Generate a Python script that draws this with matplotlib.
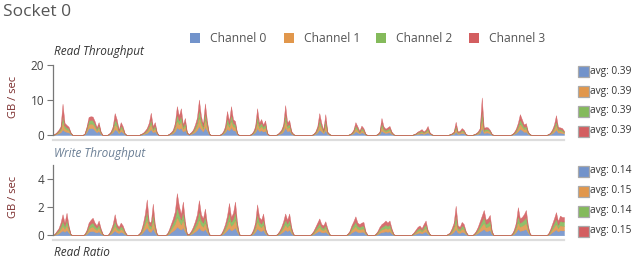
"""
Socket 0 — per-channel memory throughput (stacked areas)
"""
import matplotlib
matplotlib.use("Agg")
import matplotlib.pyplot as plt
from matplotlib.patches import Rectangle
from matplotlib.lines import Line2D
import numpy as np

plt.rcParams["font.family"] = ["Open Sans", "DejaVu Sans"]

# ─── 数据 ─────────────────────────────────────────────────────────────── #
N_SAMPLES = 256
CHANNELS = ["Channel 0", "Channel 1", "Channel 2", "Channel 3"]
COLORS = ["#7293CB", "#E1974C", "#84BA5B", "#D35E60"]

# read throughput bursts (GB/s), start sample of each burst
read_starts = [1, 16, 28, 44, 58, 68, 84, 99, 112, 130, 148, 162, 180, 198, 210, 229, 247]
read_ch0 = [
    [0.1, 0.3, 0.5, 0.8, 1.6, 1.1, 0.9, 0.8, 0.3],
    [0.2, 0.9, 2.0, 2.0, 2.0, 1.4, 0.8, 1.2, 0.3],
    [0.1, 0.4, 0.8, 1.6, 1.4, 0.5, 1.1, 0.8, 0.2],
    [0.1, 0.2, 0.4, 0.6, 1.1, 1.7, 0.8, 1.1, 0.3],
    [0.1, 0.3, 0.5, 1.1, 2.2, 1.7, 2.1, 1.0, 1.5, 0.3],
    [0.1, 0.3, 0.5, 0.9, 1.5, 2.5, 1.7, 1.0, 2.3, 1.3, 0.2],
    [0.1, 0.4, 0.8, 1.8, 1.3, 2.2, 1.4, 1.3, 0.2],
    [0.1, 0.4, 0.8, 2.0, 1.1, 1.4, 1.0, 1.3, 0.2],
    [0.1, 0.3, 0.5, 1.0, 2.2, 1.1, 1.3, 0.4, 0.1],
    [0.1, 0.3, 0.8, 1.6, 1.1, 0.5, 1.5, 0.3, 0.1],
    [0.1, 0.2, 0.5, 1.1, 0.8, 0.4, 0.8, 0.6, 0.1],
    [0.1, 0.3, 1.3, 0.8, 0.6, 0.7, 0.8, 0.3, 0.1],
    [0.1, 0.2, 0.3, 0.4, 0.5, 0.3, 0.5, 0.8, 0.3, 0.1],
    [0.1, 0.2, 0.3, 1.0, 0.3, 0.4, 0.6, 0.5, 0.1],
    [0.1, 0.2, 0.3, 0.6, 2.0, 0.6, 0.7, 0.7, 0.5, 0.1],
    [0.1, 0.3, 0.6, 1.1, 1.8, 1.4, 0.9, 1.0, 0.3, 0.1],
    [0.1, 0.2, 0.5, 0.9, 1.6, 0.7, 0.7, 0.6, 0.4],
]
read_ch1 = [
    [0.1, 0.2, 0.4, 0.6, 2.3, 0.9, 0.7, 0.6, 0.2],
    [0.1, 0.6, 1.2, 1.3, 1.2, 1.0, 0.5, 0.9, 0.3],
    [0.1, 0.2, 0.6, 1.5, 1.1, 0.4, 0.9, 0.6, 0.1],
    [0.1, 0.2, 0.3, 0.5, 0.9, 1.6, 0.6, 0.9, 0.2],
    [0.1, 0.2, 0.4, 0.9, 2.0, 1.4, 1.9, 0.8, 1.2, 0.2],
    [0.1, 0.2, 0.4, 0.8, 1.3, 2.6, 1.4, 0.8, 2.3, 1.0, 0.1],
    [0.1, 0.2, 0.6, 1.7, 1.0, 2.0, 1.1, 1.0, 0.2],
    [0.1, 0.2, 0.6, 1.9, 0.9, 1.2, 0.8, 1.0, 0.2],
    [0.05, 0.2, 0.4, 0.8, 2.1, 0.9, 1.1, 0.3, 0.1],
    [0.1, 0.3, 0.6, 1.6, 0.9, 0.4, 1.5, 0.3, 0.1],
    [0.05, 0.2, 0.4, 0.9, 0.6, 0.3, 0.7, 0.5, 0.1],
    [0.1, 0.3, 1.2, 0.6, 0.4, 0.5, 0.7, 0.3, 0.05],
    [0.05, 0.1, 0.3, 0.3, 0.4, 0.3, 0.4, 0.6, 0.2, 0.05],
    [0.05, 0.1, 0.3, 0.9, 0.3, 0.3, 0.5, 0.4, 0.1],
    [0.05, 0.1, 0.3, 0.5, 2.6, 0.5, 0.6, 0.6, 0.4, 0.1],
    [0.05, 0.2, 0.4, 0.9, 1.5, 1.1, 0.8, 0.9, 0.3, 0.05],
    [0.05, 0.2, 0.4, 0.8, 1.4, 0.6, 0.6, 0.5, 0.3],
]
read_ch2 = [
    [0.05, 0.1, 0.3, 0.5, 1.6, 0.7, 0.6, 0.5, 0.1],
    [0.1, 0.5, 1.0, 1.1, 1.1, 0.8, 0.5, 0.8, 0.2],
    [0.05, 0.2, 0.5, 1.4, 1.0, 0.3, 0.8, 0.5, 0.1],
    [0.05, 0.1, 0.2, 0.4, 0.7, 1.3, 0.5, 0.8, 0.1],
    [0.05, 0.1, 0.3, 0.7, 1.8, 1.1, 1.6, 0.6, 1.0, 0.1],
    [0.05, 0.1, 0.3, 0.6, 1.0, 2.4, 1.1, 0.6, 2.1, 0.8, 0.1],
    [0.05, 0.2, 0.5, 1.5, 0.8, 1.8, 0.9, 0.8, 0.1],
    [0.05, 0.2, 0.5, 1.7, 0.7, 1.0, 0.6, 0.9, 0.1],
    [0.05, 0.1, 0.3, 0.6, 1.9, 0.7, 0.9, 0.2, 0.05],
    [0.05, 0.2, 0.5, 1.3, 0.7, 0.3, 1.3, 0.2, 0.05],
    [0.05, 0.1, 0.3, 0.8, 0.5, 0.2, 0.6, 0.4, 0.1],
    [0.05, 0.2, 1.0, 0.5, 0.4, 0.5, 0.5, 0.2, 0.05],
    [0.05, 0.1, 0.2, 0.3, 0.4, 0.2, 0.3, 0.5, 0.1, 0.05],
    [0.05, 0.1, 0.2, 0.8, 0.2, 0.2, 0.4, 0.3, 0.05],
    [0.05, 0.1, 0.2, 0.4, 2.4, 0.4, 0.5, 0.4, 0.3, 0.05],
    [0.05, 0.1, 0.4, 0.7, 1.2, 0.9, 0.6, 0.7, 0.2, 0.05],
    [0.05, 0.1, 0.3, 0.6, 1.1, 0.5, 0.4, 0.4, 0.2],
]
read_ch3 = [
    [0.05, 0.2, 0.3, 0.6, 3.5, 0.8, 0.7, 0.5, 0.2],
    [0.1, 0.5, 1.0, 1.0, 1.0, 0.8, 0.4, 0.8, 0.2],
    [0.05, 0.2, 0.6, 1.8, 1.0, 0.3, 0.9, 0.6, 0.1],
    [0.05, 0.1, 0.3, 0.5, 0.8, 1.8, 0.6, 0.9, 0.2],
    [0.05, 0.2, 0.3, 0.8, 2.3, 1.3, 2.1, 0.6, 1.2, 0.2],
    [0.05, 0.2, 0.3, 0.7, 1.2, 2.7, 1.3, 0.6, 2.4, 0.9, 0.1],
    [0.05, 0.2, 0.6, 1.9, 0.9, 2.3, 1.1, 0.9, 0.1],
    [0.05, 0.2, 0.6, 2.1, 0.8, 1.0, 0.6, 1.0, 0.1],
    [0.0, 0.2, 0.3, 0.6, 2.4, 0.8, 1.0, 0.3, 0.05],
    [0.05, 0.2, 0.6, 1.8, 0.8, 0.3, 1.7, 0.2, 0.05],
    [0.0, 0.1, 0.3, 0.9, 0.6, 0.3, 0.6, 0.5, 0.1],
    [0.05, 0.2, 1.4, 0.6, 0.4, 0.5, 0.6, 0.2, 0.0],
    [0.0, 0.1, 0.2, 0.3, 0.4, 0.2, 0.3, 0.7, 0.2, 0.0],
    [0.0, 0.1, 0.2, 1.1, 0.2, 0.3, 0.5, 0.3, 0.05],
    [0.0, 0.1, 0.2, 0.5, 3.8, 0.5, 0.5, 0.5, 0.3, 0.05],
    [0.0, 0.2, 0.4, 0.8, 1.5, 1.1, 0.7, 0.8, 0.2, 0.0],
    [0.0, 0.1, 0.3, 0.7, 1.6, 0.5, 0.5, 0.5, 0.3],
]
read_avg = ["0.39", "0.39", "0.39", "0.39"]

# write throughput bursts (GB/s)
write_starts = [1, 16, 28, 43, 57, 68, 84, 99, 112, 129, 147, 161, 179, 197, 210, 229, 247]
write_ch0 = [
    [0.03, 0.08, 0.13, 0.25, 0.35, 0.25, 0.38, 0.2, 0.03],
    [0.03, 0.1, 0.25, 0.3, 0.32, 0.25, 0.2, 0.28, 0.14, 0.03],
    [0.03, 0.1, 0.22, 0.35, 0.22, 0.17, 0.25, 0.2, 0.08, 0.02],
    [0.03, 0.08, 0.22, 0.4, 0.55, 0.28, 0.25, 0.5, 0.22, 0.03],
    [0.03, 0.1, 0.22, 0.32, 0.42, 0.62, 0.5, 0.4, 0.55, 0.27, 0.03],
    [0.03, 0.08, 0.17, 0.27, 0.38, 0.55, 0.38, 0.32, 0.45, 0.22, 0.03],
    [0.03, 0.1, 0.22, 0.37, 0.52, 0.35, 0.42, 0.55, 0.25, 0.03],
    [0.03, 0.1, 0.25, 0.5, 0.35, 0.3, 0.4, 0.14, 0.03],
    [0.03, 0.08, 0.17, 0.27, 0.4, 0.3, 0.4, 0.17, 0.03],
    [0.03, 0.08, 0.17, 0.25, 0.32, 0.22, 0.2, 0.27, 0.14, 0.03],
    [0.03, 0.08, 0.2, 0.27, 0.35, 0.25, 0.22, 0.25, 0.25, 0.08, 0.02],
    [0.03, 0.08, 0.17, 0.22, 0.25, 0.28, 0.25, 0.28, 0.14, 0.03],
    [0.02, 0.06, 0.11, 0.17, 0.2, 0.14, 0.22, 0.28, 0.11, 0.03],
    [0.03, 0.06, 0.14, 0.25, 0.45, 0.2, 0.17, 0.25, 0.22, 0.08, 0.02],
    [0.03, 0.08, 0.17, 0.27, 0.36, 0.45, 0.3, 0.32, 0.37, 0.08],
    [0.03, 0.1, 0.25, 0.47, 0.32, 0.35, 0.4, 0.45, 0.2, 0.03],
    [0.03, 0.1, 0.22, 0.32, 0.42, 0.27, 0.37, 0.35, 0.35],
]
write_ch1 = [
    [0.03, 0.08, 0.13, 0.22, 0.35, 0.22, 0.38, 0.18, 0.03],
    [0.03, 0.1, 0.23, 0.28, 0.32, 0.23, 0.18, 0.27, 0.13, 0.03],
    [0.03, 0.1, 0.2, 0.35, 0.2, 0.15, 0.22, 0.18, 0.08, 0.01],
    [0.03, 0.08, 0.2, 0.38, 0.6, 0.25, 0.22, 0.55, 0.2, 0.03],
    [0.03, 0.1, 0.2, 0.3, 0.42, 0.7, 0.52, 0.37, 0.58, 0.25, 0.03],
    [0.03, 0.08, 0.15, 0.25, 0.37, 0.6, 0.37, 0.3, 0.47, 0.2, 0.03],
    [0.03, 0.1, 0.2, 0.35, 0.56, 0.33, 0.4, 0.58, 0.22, 0.03],
    [0.03, 0.1, 0.23, 0.53, 0.33, 0.28, 0.38, 0.13, 0.03],
    [0.03, 0.08, 0.15, 0.25, 0.38, 0.28, 0.38, 0.15, 0.03],
    [0.03, 0.08, 0.15, 0.22, 0.3, 0.2, 0.17, 0.25, 0.13, 0.03],
    [0.03, 0.08, 0.18, 0.25, 0.33, 0.22, 0.2, 0.22, 0.23, 0.08, 0.01],
    [0.03, 0.08, 0.15, 0.2, 0.22, 0.26, 0.22, 0.26, 0.13, 0.03],
    [0.01, 0.05, 0.1, 0.15, 0.17, 0.12, 0.2, 0.26, 0.1, 0.03],
    [0.03, 0.05, 0.13, 0.22, 0.5, 0.18, 0.15, 0.24, 0.2, 0.08, 0.01],
    [0.03, 0.08, 0.15, 0.25, 0.35, 0.44, 0.27, 0.3, 0.36, 0.08],
    [0.03, 0.1, 0.23, 0.48, 0.3, 0.33, 0.37, 0.44, 0.18, 0.03],
    [0.03, 0.1, 0.2, 0.3, 0.4, 0.25, 0.35, 0.33, 0.33],
]
write_ch2 = [
    [0.02, 0.07, 0.12, 0.2, 0.35, 0.2, 0.36, 0.16, 0.02],
    [0.02, 0.1, 0.2, 0.25, 0.28, 0.2, 0.16, 0.24, 0.11, 0.02],
    [0.02, 0.1, 0.18, 0.35, 0.18, 0.13, 0.2, 0.16, 0.07, 0.01],
    [0.02, 0.07, 0.18, 0.34, 0.6, 0.22, 0.2, 0.52, 0.18, 0.02],
    [0.02, 0.1, 0.18, 0.28, 0.4, 0.7, 0.5, 0.35, 0.57, 0.23, 0.02],
    [0.02, 0.07, 0.13, 0.23, 0.35, 0.6, 0.35, 0.28, 0.45, 0.18, 0.02],
    [0.02, 0.1, 0.18, 0.32, 0.55, 0.3, 0.37, 0.57, 0.2, 0.02],
    [0.02, 0.1, 0.2, 0.52, 0.3, 0.25, 0.35, 0.11, 0.02],
    [0.02, 0.07, 0.13, 0.23, 0.35, 0.25, 0.35, 0.13, 0.02],
    [0.02, 0.07, 0.13, 0.2, 0.27, 0.18, 0.15, 0.22, 0.11, 0.02],
    [0.02, 0.07, 0.15, 0.23, 0.3, 0.2, 0.18, 0.2, 0.22, 0.07, 0.01],
    [0.02, 0.07, 0.13, 0.18, 0.2, 0.24, 0.2, 0.24, 0.11, 0.02],
    [0.01, 0.04, 0.09, 0.13, 0.15, 0.11, 0.18, 0.24, 0.09, 0.02],
    [0.02, 0.04, 0.11, 0.2, 0.5, 0.15, 0.13, 0.22, 0.18, 0.07, 0.01],
    [0.02, 0.07, 0.13, 0.23, 0.32, 0.42, 0.25, 0.27, 0.33, 0.07],
    [0.02, 0.1, 0.2, 0.47, 0.28, 0.3, 0.35, 0.42, 0.15, 0.02],
    [0.02, 0.1, 0.18, 0.28, 0.38, 0.23, 0.32, 0.3, 0.3],
]
write_ch3 = [
    [0.02, 0.07, 0.12, 0.23, 0.45, 0.23, 0.48, 0.16, 0.02],
    [0.02, 0.1, 0.22, 0.27, 0.33, 0.22, 0.16, 0.26, 0.12, 0.02],
    [0.02, 0.1, 0.2, 0.45, 0.2, 0.15, 0.23, 0.16, 0.07, 0.01],
    [0.02, 0.07, 0.2, 0.38, 0.8, 0.25, 0.23, 0.68, 0.2, 0.02],
    [0.02, 0.1, 0.2, 0.3, 0.46, 0.98, 0.58, 0.38, 0.7, 0.25, 0.02],
    [0.02, 0.07, 0.15, 0.25, 0.4, 0.75, 0.4, 0.3, 0.53, 0.2, 0.02],
    [0.02, 0.1, 0.2, 0.36, 0.67, 0.32, 0.41, 0.7, 0.23, 0.02],
    [0.02, 0.1, 0.22, 0.65, 0.32, 0.27, 0.42, 0.12, 0.02],
    [0.02, 0.07, 0.15, 0.25, 0.42, 0.27, 0.42, 0.15, 0.02],
    [0.02, 0.07, 0.15, 0.23, 0.31, 0.2, 0.18, 0.26, 0.12, 0.02],
    [0.02, 0.07, 0.17, 0.25, 0.37, 0.23, 0.2, 0.23, 0.25, 0.07, 0.01],
    [0.02, 0.07, 0.15, 0.2, 0.23, 0.27, 0.23, 0.27, 0.12, 0.02],
    [0.01, 0.05, 0.1, 0.15, 0.18, 0.13, 0.2, 0.27, 0.1, 0.02],
    [0.02, 0.05, 0.12, 0.23, 0.65, 0.17, 0.15, 0.24, 0.2, 0.07, 0.01],
    [0.02, 0.07, 0.15, 0.25, 0.37, 0.49, 0.28, 0.31, 0.39, 0.07],
    [0.02, 0.1, 0.22, 0.58, 0.3, 0.32, 0.38, 0.49, 0.17, 0.02],
    [0.02, 0.1, 0.2, 0.3, 0.45, 0.25, 0.36, 0.32, 0.32],
]
write_avg = ["0.14", "0.15", "0.14", "0.15"]


def build_series(starts, bursts):
    """把各段突发值放到完整时间轴上（其余时刻为 0）。"""
    s = np.zeros(N_SAMPLES)
    for st, vals in zip(starts, bursts):
        s[st:st + len(vals)] = vals
    return s


read_series = [build_series(read_starts, b) for b in (read_ch0, read_ch1, read_ch2, read_ch3)]
write_series = [build_series(write_starts, b) for b in (write_ch0, write_ch1, write_ch2, write_ch3)]

# ─── 绘图 ─────────────────────────────────────────────────────────────── #
W, H = 640, 261
fig = plt.figure(figsize=(6.4, 2.61), dpi=100)
TXT = "#444444"


def fx(px):
    return px / W


def fy(py):
    return 1 - py / H


fig.text(fx(3), fy(12), "Socket 0", fontsize=12.5, color="#555555", va="center", ha="left")

# top legend
leg_x = [190, 284, 376, 469]
for x0, col, name in zip(leg_x, COLORS, CHANNELS):
    fig.patches.append(Rectangle((fx(x0), fy(42.5)), fx(9.5), 9.5 / H, transform=fig.transFigure,
                                 facecolor=col, edgecolor="none"))
    fig.text(fx(x0 + 20), fy(38), name, fontsize=8.7, color="#555555", va="center", ha="left")

panels = [
    ("Read Throughput", 52, 65.5, 135, 20, [0, 10, 20], read_series, read_avg, 71, "#333333"),
    ("Write Throughput", 153, 165, 235.3, 5, [0, 2, 4], write_series, write_avg, 171, "#6b7f95"),
]
x = np.arange(N_SAMPLES)
for title, ty, top, bot, ymax, ticks, series, avgs, leg_y, tcol in panels:
    ax = fig.add_axes([fx(52.5), fy(bot), fx(564 - 52.5), (bot - top) / H])
    ax.stackplot(x, *series, colors=COLORS, alpha=0.9, linewidth=0.3,
                 edgecolor="face")
    ax.set_xlim(0, N_SAMPLES - 1)
    ax.set_ylim(0, ymax)
    ax.set_yticks(ticks)
    ax.set_xticks([])
    for side in ("top", "right", "bottom"):
        ax.spines[side].set_visible(False)
    ax.spines["left"].set_color("#777777")
    ax.spines["left"].set_linewidth(0.9)
    ax.tick_params(axis="y", length=4, width=0.8, color="#777777", labelsize=8.5,
                   labelcolor=TXT, pad=2)
    ax.set_ylabel("GB / sec", fontsize=8, color="#7a2a2a")
    ax.yaxis.set_label_coords((19 - 52.5) / (564 - 52.5), 0.55)
    ax.patch.set_alpha(0)
    fig.text(fx(54), fy(ty), title, fontsize=8.5, style="italic", color=tcol,
             va="center", ha="left")
    # separator under panel
    fig.add_artist(Line2D([fx(53), fx(564)], [fy(bot + 5), fy(bot + 5)],
                          color="#dddddd", linewidth=1.6))
    # avg legend on the right
    for i, (col, av) in enumerate(zip(COLORS, avgs)):
        yy = leg_y + 20 * i
        fig.patches.append(Rectangle((fx(578), fy(yy + 5.5)), fx(10.5), 10.5 / H,
                                     transform=fig.transFigure, facecolor=col,
                                     edgecolor="#aaaaaa", linewidth=0.9))
        fig.text(fx(590.5), fy(yy), f"avg: {av}", fontsize=7.3, color="#333333",
                 va="center", ha="left")

fig.text(fx(54), fy(252), "Read Ratio", fontsize=8.5, style="italic", color="#333333",
         va="center", ha="left")

fig.savefig("out.png", dpi=100)
plt.close(fig)
